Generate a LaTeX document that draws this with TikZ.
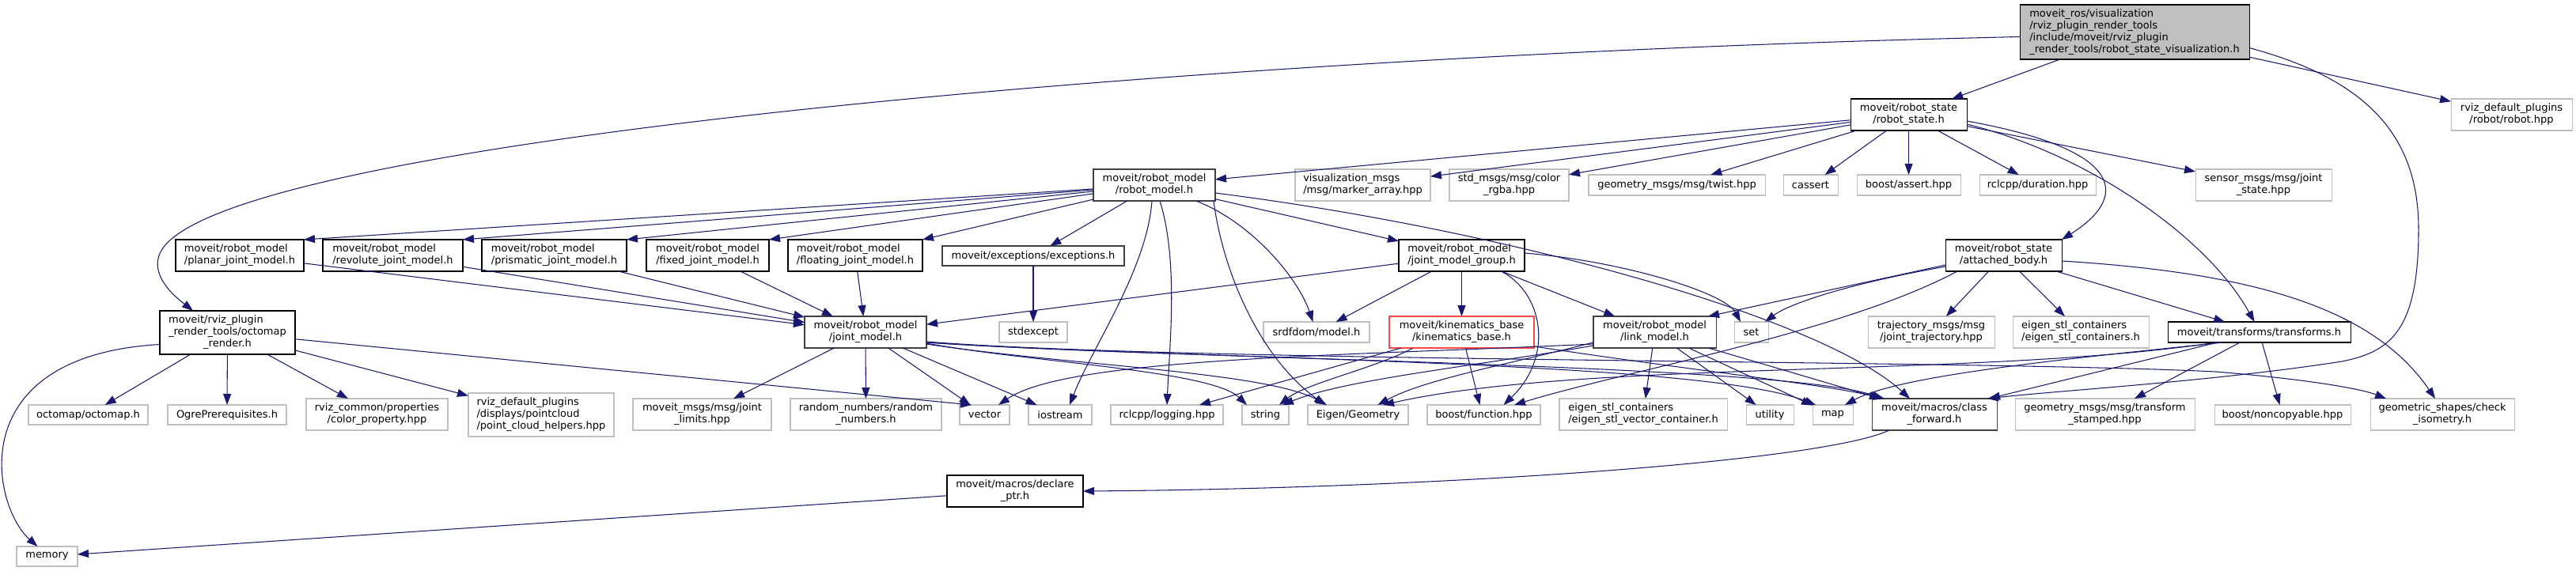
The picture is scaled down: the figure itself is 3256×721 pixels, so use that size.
\documentclass[tikz,border=0pt]{standalone}
\usepackage{fontspec}
\setmainfont{DejaVu Sans}
\usetikzlibrary{arrows.meta,calc}
\definecolor{eblue}{HTML}{191970}
\definecolor{lgray}{HTML}{BFBFBF}
\definecolor{dgray}{HTML}{404040}
\definecolor{tred}{HTML}{FF4848}
\newcommand\fsz{\fontsize{13pt}{15pt}\selectfont}
\newcommand\nlbl[2]{\begin{tabular}{@{}l@{}}#1\\\multicolumn{1}{@{}c@{}}{#2}\end{tabular}}
\newcommand\mknode[7]{%
 \pgfmathsetmacro\mkcx{(#2+#4)/2}\pgfmathsetmacro\mkcy{(#3+#5)/2}%
 \pgfmathsetmacro\mkww{#4-#2}\pgfmathsetmacro\mkhh{#5-#3}%
 \node[#6,minimum width=\mkww pt,minimum height=\mkhh pt] (#1) at (\mkcx,\mkcy) {#7};}
\tikzset{
 nbox/.style={draw,rectangle,inner sep=0pt,outer sep=0pt,line width=1.05pt,fill=white,font=\fsz,text=black},
 doc/.style={nbox,draw=black},
 docg/.style={nbox,draw=dgray},
 ext/.style={nbox,draw=lgray},
 trunc/.style={nbox,draw=tred},
 rootn/.style={nbox,draw=black,fill=lgray},
 dep/.style={draw=eblue,line width=1.05pt,-{Triangle[length=14pt,width=10pt]}},
}
\begin{document}
\begin{tikzpicture}[x=1pt,y=-1pt]
\fill[white] (0,0) rectangle (3256,721);
\useasboundingbox (0,0) rectangle (3256,721);
% nodes
\mknode{root}{2553}{6}{2843}{75}{rootn}{\nlbl{moveit\_ros/visualization\\/rviz\_plugin\_render\_tools\\/include/moveit/rviz\_plugin}{\_render\_tools/robot\_state\_visualization.h}}
\mknode{robothpp}{3098}{125}{3251}{165}{ext}{\nlbl{rviz\_default\_plugins}{/robot/robot.hpp}}
\mknode{rstate}{2339}{125}{2486}{165}{doc}{\nlbl{moveit/robot\_state}{/robot\_state.h}}
\mknode{rmodel}{1382}{214}{1536}{254}{docg}{\nlbl{moveit/robot\_model}{/robot\_model.h}}
\mknode{marker}{1637}{214}{1808}{254}{ext}{\nlbl{visualization\_msgs}{/msg/marker\_array.hpp}}
\mknode{rgba}{1832}{214}{1983}{254}{ext}{\nlbl{std\_msgs/msg/color}{\_rgba.hpp}}
\mknode{twist}{2008}{221}{2231}{247}{ext}{geometry\_msgs/msg/twist.hpp}
\mknode{cassert}{2254}{221}{2323}{247}{ext}{cassert}
\mknode{bassert}{2347}{221}{2478}{247}{ext}{boost/assert.hpp}
\mknode{duration}{2502}{221}{2649}{247}{ext}{rclcpp/duration.hpp}
\mknode{jstate}{2775}{214}{2947}{254}{ext}{\nlbl{sensor\_msgs/msg/joint}{\_state.hpp}}
\mknode{planar}{222}{303}{384}{343}{doc}{\nlbl{moveit/robot\_model}{/planar\_joint\_model.h}}
\mknode{revolute}{408}{303}{585}{343}{doc}{\nlbl{moveit/robot\_model}{/revolute\_joint\_model.h}}
\mknode{prismatic}{609}{303}{792}{343}{doc}{\nlbl{moveit/robot\_model}{/prismatic\_joint\_model.h}}
\mknode{fixed}{817}{303}{972}{343}{doc}{\nlbl{moveit/robot\_model}{/fixed\_joint\_model.h}}
\mknode{floating}{996}{303}{1166}{343}{doc}{\nlbl{moveit/robot\_model}{/floating\_joint\_model.h}}
\mknode{except}{1191}{311}{1421}{336}{docg}{moveit/exceptions/exceptions.h}
\mknode{jmg}{1768}{303}{1927}{343}{doc}{\nlbl{moveit/robot\_model}{/joint\_model\_group.h}}
\mknode{abody}{2459}{303}{2606}{343}{doc}{\nlbl{moveit/robot\_state}{/attached\_body.h}}
\mknode{octo}{202}{393}{373}{448}{doc}{\nlbl{moveit/rviz\_plugin\\\_render\_tools/octomap}{\_render.h}}
\mknode{octomap}{36}{512}{187}{537}{ext}{octomap/octomap.h}
\mknode{ogre}{212}{512}{362}{537}{ext}{OgrePrerequisites.h}
\mknode{colorprop}{387}{504}{566}{544}{ext}{\nlbl{rviz\_common/properties}{/color\_property.hpp}}
\mknode{pch}{592}{497}{776}{552}{ext}{\nlbl{rviz\_default\_plugins\\/displays/pointcloud}{/point\_cloud\_helpers.hpp}}
\mknode{memory}{21}{691}{98}{716}{ext}{memory}
\mknode{jmodel}{1017}{400}{1171}{440}{docg}{\nlbl{moveit/robot\_model}{/joint\_model.h}}
\mknode{stdexcept}{1263}{407}{1349}{433}{ext}{stdexcept}
\mknode{jlimits}{800}{504}{975}{544}{ext}{\nlbl{moveit\_msgs/msg/joint}{\_limits.hpp}}
\mknode{random}{999}{504}{1190}{544}{ext}{\nlbl{random\_numbers/random}{\_numbers.h}}
\mknode{vector}{1213}{512}{1276}{537}{ext}{vector}
\mknode{iostream}{1300}{512}{1380}{537}{ext}{iostream}
\mknode{logging}{1404}{512}{1546}{537}{ext}{rclcpp/logging.hpp}
\mknode{string}{1570}{512}{1629}{537}{ext}{string}
\mknode{eigen}{1653}{512}{1780}{537}{ext}{Eigen/Geometry}
\mknode{bfunc}{1804}{512}{1947}{537}{ext}{boost/function.hpp}
\mknode{esvc}{1971}{504}{2183}{544}{ext}{\nlbl{eigen\_stl\_containers}{/eigen\_stl\_vector\_container.h}}
\mknode{utility}{2207}{512}{2267}{537}{ext}{utility}
\mknode{map}{2291}{512}{2342}{537}{ext}{map}
\mknode{cfwd}{2366}{504}{2524}{544}{docg}{\nlbl{moveit/macros/class}{\_forward.h}}
\mknode{tstamped}{2547}{504}{2774}{544}{ext}{\nlbl{geometry\_msgs/msg/transform}{\_stamped.hpp}}
\mknode{noncopy}{2799}{512}{2971}{537}{ext}{boost/noncopyable.hpp}
\mknode{checkiso}{2996}{504}{3178}{544}{ext}{\nlbl{geometric\_shapes/check}{\_isometry.h}}
\mknode{declare}{1197}{601}{1369}{641}{doc}{\nlbl{moveit/macros/declare}{\_ptr.h}}
\mknode{srdf}{1597}{407}{1731}{433}{ext}{srdfdom/model.h}
\mknode{kin}{1756}{400}{1939}{440}{trunc}{\nlbl{moveit/kinematics\_base}{/kinematics\_base.h}}
\mknode{lmodel}{2014}{400}{2169}{440}{docg}{\nlbl{moveit/robot\_model}{/link\_model.h}}
\mknode{set}{2192}{407}{2235}{433}{ext}{set}
\mknode{jtraj}{2361}{400}{2521}{440}{ext}{\nlbl{trajectory\_msgs/msg}{/joint\_trajectory.hpp}}
\mknode{esc}{2544}{400}{2716}{440}{ext}{\nlbl{eigen\_stl\_containers}{/eigen\_stl\_containers.h}}
\mknode{transforms}{2740}{407}{2971}{433}{doc}{moveit/transforms/transforms.h}
% root edges
\draw[dep] (root) -- (rstate);
\draw[dep] (root) -- (robothpp);
\draw[dep] ($(root.west)+(0,6)$) .. controls (1500,70) and (250,180) .. (201,323) .. controls (191,352) and (225,378) .. ($(octo.north west)+(42,0)$);
\draw[dep] ($(root.east)+(0,20)$) .. controls (2990,100) and (3057,170) .. (3057,290) .. controls (3057,420) and (3020,445) .. (2960,457) .. controls (2800,482) and (2600,494) .. ($(cfwd.north east)+(-12,0)$);
% robot_state edges
\draw[dep] (rstate) -- (rmodel);
\draw[dep] (rstate) -- (marker);
\draw[dep] (rstate) -- (rgba);
\draw[dep] (rstate) -- (twist);
\draw[dep] (rstate) -- (cassert);
\draw[dep] (rstate) -- (bassert);
\draw[dep] (rstate) -- (duration);
\draw[dep] (rstate) -- (jstate);
\draw[dep] ($(rstate.east)+(0,8)$) .. controls (2690,190) and (2690,250) .. (abody.north east);
\draw[dep] ($(rstate.east)+(0,12)$) .. controls (2640,195) and (2790,300) .. ($(transforms.north)+(-6,0)$);
% attached_body edges
\draw[dep] ($(abody.west)+(0,12)$) -- ($(lmodel.north east)+(-10,0)$);
\draw[dep] ($(abody.west)+(0,14)$) .. controls (2330,360) and (2260,385) .. ($(set.north east)+(-4,0)$);
\draw[dep] ($(abody.south west)+(15,0)$) .. controls (2330,420) and (2050,470) .. ($(bfunc.north east)+(-33,0)$);
\draw[dep] (abody) -- (jtraj);
\draw[dep] (abody) -- (esc);
\draw[dep] (abody) -- (transforms);
\draw[dep] ($(abody.east)+(0,7)$) .. controls (2850,345) and (3000,390) .. ($(checkiso.north west)+(82,0)$);
% robot_model edges
\draw[dep] (rmodel) -- (planar.north east);
\draw[dep] (rmodel) -- (revolute.north east);
\draw[dep] (rmodel) -- (prismatic.north east);
\draw[dep] (rmodel) -- (fixed.north east);
\draw[dep] (rmodel) -- (floating.north east);
\draw[dep] (rmodel) -- (except);
\draw[dep] (rmodel) -- (jmg);
\draw[dep] (rmodel) .. controls (1580,280) and (1640,350) .. (srdf);
\draw[dep] ($(rmodel.south east)+(-2,0)$) .. controls (1545,340) and (1590,450) .. ($(eigen.north west)+(22,0)$);
\draw[dep] ($(rmodel.south)+(-3,0)$) .. controls (1450,340) and (1380,440) .. ($(iostream.north)+(12,0)$);
\draw[dep] ($(rmodel.south)+(7,0)$) .. controls (1490,330) and (1478,440) .. (logging.north);
\draw[dep] ($(rmodel.east)+(0,10)$) .. controls (1900,290) and (2300,400) .. ($(cfwd.north west)+(48,0)$);
\draw[dep] (except) -- (stdexcept);
% joint types
\draw[dep] (planar) -- (jmodel);
\draw[dep] (revolute) -- (jmodel);
\draw[dep] (prismatic) -- (jmodel);
\draw[dep] (fixed) -- (jmodel);
\draw[dep] (floating) -- (jmodel);
% joint_model_group
\draw[dep] (jmg) -- (jmodel);
\draw[dep] (jmg) -- (srdf);
\draw[dep] (jmg) -- (kin);
\draw[dep] ($(jmg.south)+(50,0)$) .. controls (1950,370) and (1965,450) .. ($(bfunc.north)+(25,0)$);
\draw[dep] (jmg) -- (lmodel);
\draw[dep] ($(jmg.east)+(0,-3)$) .. controls (2050,330) and (2180,370) .. ($(set.north west)+(8,0)$);
% joint_model
\draw[dep] (jmodel) -- (jlimits);
\draw[dep] (jmodel) -- (random);
\draw[dep] (jmodel) -- (vector);
\draw[dep] (jmodel) -- (iostream);
\draw[dep] ($(jmodel.east)+(0,14)$) .. controls (1300,458) and (1530,468) .. ($(string.north west)+(6,0)$);
\draw[dep] ($(jmodel.east)+(0,15)$) .. controls (1350,462) and (1600,470) .. ($(eigen.north west)+(24,0)$);
\draw[dep] ($(jmodel.east)+(0,13)$) .. controls (1500,455) and (2150,455) .. ($(map.north west)+(4,0)$);
\draw[dep] ($(jmodel.east)+(0,13)$) .. controls (1500,455) and (2250,460) .. ($(cfwd.north west)+(14,0)$);
\draw[dep] ($(jmodel.east)+(0,12)$) .. controls (1500,458) and (2500,455) .. (2800,470) .. controls (2900,478) and (2980,490) .. ($(checkiso.north west)+(20,0)$);
% kinematics_base
\draw[dep] ($(kin.south west)+(30,0)$) .. controls (1740,465) and (1650,485) .. ($(string.north east)+(-12,0)$);
\draw[dep] ($(kin.south west)+(15,0)$) -- ($(logging.north east)+(-30,0)$);
\draw[dep] ($(kin.south)+(5,0)$) -- ($(bfunc.north)+(-5,0)$);
\draw[dep] ($(kin.east)+(0,18)$) .. controls (2150,470) and (2300,485) .. ($(cfwd.north west)+(16,0)$);
% link_model
\draw[dep] ($(lmodel.west)+(0,15)$) .. controls (1700,450) and (1350,452) .. ($(vector.north east)+(-14,0)$);
\draw[dep] ($(lmodel.west)+(0,13)$) .. controls (1900,462) and (1800,480) .. ($(eigen.north)+(25,0)$);
\draw[dep] ($(lmodel.west)+(0,17)$) .. controls (1850,465) and (1700,480) .. ($(string.north east)+(-8,0)$);
\draw[dep] (lmodel) -- (esvc);
\draw[dep] (lmodel) -- (utility);
\draw[dep] (lmodel) -- (map);
\draw[dep] (lmodel) -- (cfwd);
% transforms
\draw[dep] (transforms) -- (tstamped);
\draw[dep] (transforms) -- (noncopy);
\draw[dep] (transforms) -- ($(cfwd.north east)+(-10,0)$);
\draw[dep] ($(transforms.south west)+(70,0)$) .. controls (2600,455) and (2400,475) .. ($(map.north east)+(-10,0)$);
\draw[dep] ($(transforms.south west)+(62,0)$) .. controls (2500,478) and (2000,455) .. ($(eigen.north east)+(-32,0)$);
% octomap_render
\draw[dep] (octo) -- (octomap);
\draw[dep] (octo) -- (ogre);
\draw[dep] (octo) -- (colorprop);
\draw[dep] (octo) -- (pch);
\draw[dep] (octo) -- ($(vector.north west)+(15,0)$);
\draw[dep] ($(octo.west)+(0,15)$) .. controls (-50,450) and (-10,640) .. ($(memory.north)+(-12,0)$);
\draw[dep] (declare) -- (memory);
\draw[dep] ($(cfwd.south west)+(22,0)$) .. controls (2300,585) and (1800,618) .. (declare.east);
\end{tikzpicture}
\end{document}
